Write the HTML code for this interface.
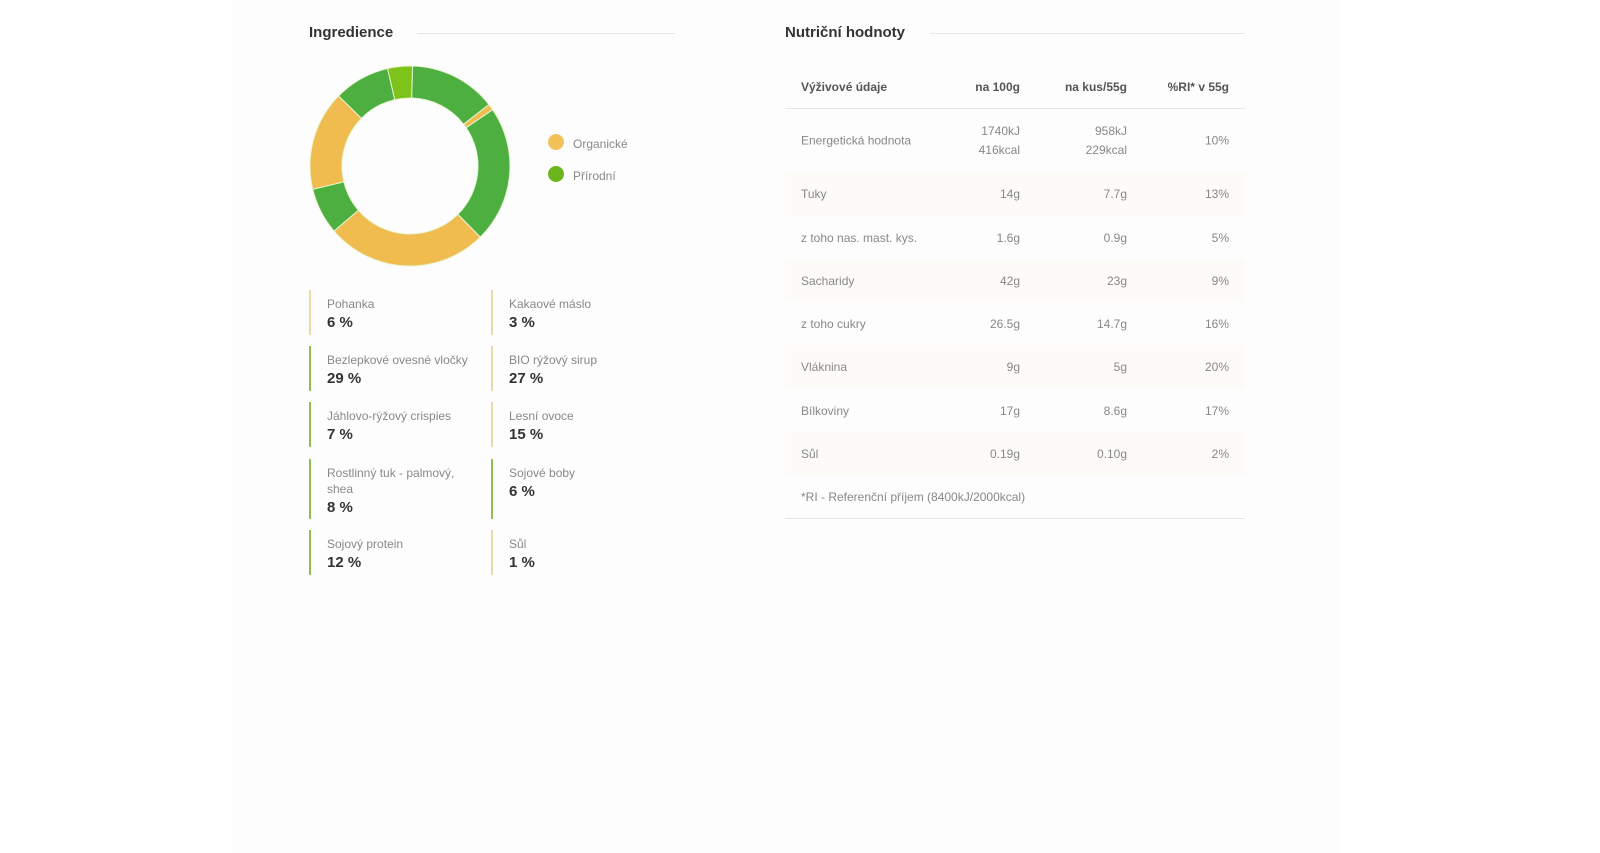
<!DOCTYPE html>
<html><head><meta charset="utf-8"><style>
body{margin:0;width:1600px;height:853px;background:#fff;font-family:"Liberation Sans",sans-serif;position:relative;overflow:hidden}
.abs{position:absolute}
.title{font-size:15px;font-weight:bold;color:#333}
.hline{height:1px;background:#ebe8e0}
.item{position:absolute;border-left:2px solid #ecd9a6;padding-left:16px;width:160px}
.item.g{border-left-color:#8cc152}
.item .n{font-size:12px;color:#888;line-height:16px}
.item .v{font-size:15px;font-weight:bold;color:#333;margin-top:2px}
.row{position:absolute;left:785px;width:460px;font-size:12px;color:#888}
.row.s{background:#fcfbf7}
.row span{position:absolute;top:50%;transform:translateY(-50%)}
.c0{left:16px}.c1{right:225px;text-align:right}.c2{right:118px;text-align:right}.c3{right:16px;text-align:right}
.hdr{font-weight:bold;color:#555}
</style></head><body>
<div class="abs" style="left:232px;top:0;width:1108px;height:853px;background:#fdfdfd"></div>
<div class="abs title" style="left:309px;top:24px">Ingredience</div>
<div class="abs hline" style="left:417px;top:33px;width:258px"></div>
<svg class="abs" id="donut" style="left:300px;top:56px" width="220" height="220"></svg>
<div class="abs" style="left:548px;top:134px;width:16px;height:16px;border-radius:50%;background:#f2c15a"></div>
<div class="abs" style="left:573px;top:137px;font-size:12px;color:#888">Organické</div>
<div class="abs" style="left:548px;top:166px;width:16px;height:16px;border-radius:50%;background:#6db51f"></div>
<div class="abs" style="left:573px;top:169px;font-size:12px;color:#888">Přírodní</div>

<div class="item" style="left:309px;top:290px;height:45px"><div class="n" style="margin-top:6px">Pohanka</div><div class="v">6 %</div></div>
<div class="item" style="left:491px;top:290px;height:45px"><div class="n" style="margin-top:6px">Kakaové máslo</div><div class="v">3 %</div></div>
<div class="item g" style="left:309px;top:346px;height:45px"><div class="n" style="margin-top:6px">Bezlepkové ovesné vločky</div><div class="v">29 %</div></div>
<div class="item" style="left:491px;top:346px;height:45px"><div class="n" style="margin-top:6px">BIO rýžový sirup</div><div class="v">27 %</div></div>
<div class="item g" style="left:309px;top:402px;height:45px"><div class="n" style="margin-top:6px">Jáhlovo-rýžový crispies</div><div class="v">7 %</div></div>
<div class="item" style="left:491px;top:402px;height:45px"><div class="n" style="margin-top:6px">Lesní ovoce</div><div class="v">15 %</div></div>
<div class="item g" style="left:309px;top:459px;height:60px"><div class="n" style="margin-top:6px">Rostlinný tuk - palmový,<br>shea</div><div class="v">8 %</div></div>
<div class="item g" style="left:491px;top:459px;height:60px"><div class="n" style="margin-top:6px">Sojové boby</div><div class="v">6 %</div></div>
<div class="item g" style="left:309px;top:530px;height:45px"><div class="n" style="margin-top:6px">Sojový protein</div><div class="v">12 %</div></div>
<div class="item" style="left:491px;top:530px;height:45px"><div class="n" style="margin-top:6px">Sůl</div><div class="v">1 %</div></div>

<div class="abs title" style="left:785px;top:24px">Nutriční hodnoty</div>
<div class="abs hline" style="left:930px;top:33px;width:315px"></div>

<div class="row hdr" style="top:66px;height:42px"><span class="c0">Výživové údaje</span><span class="c1">na 100g</span><span class="c2">na kus/55g</span><span class="c3">%RI* v 55g</span></div>
<div class="abs hline" style="left:785px;top:108px;width:460px"></div>
<div class="row" style="top:109px;height:63px;line-height:19px"><span class="c0">Energetická hodnota</span><span class="c1">1740kJ<br>416kcal</span><span class="c2">958kJ<br>229kcal</span><span class="c3">10%</span></div>
<div class="row s" style="top:172px;height:44px"><span class="c0">Tuky</span><span class="c1">14g</span><span class="c2">7.7g</span><span class="c3">13%</span></div>
<div class="row" style="top:216px;height:43px"><span class="c0">z toho nas. mast. kys.</span><span class="c1">1.6g</span><span class="c2">0.9g</span><span class="c3">5%</span></div>
<div class="row s" style="top:259px;height:43px"><span class="c0">Sacharidy</span><span class="c1">42g</span><span class="c2">23g</span><span class="c3">9%</span></div>
<div class="row" style="top:302px;height:43px"><span class="c0">z toho cukry</span><span class="c1">26.5g</span><span class="c2">14.7g</span><span class="c3">16%</span></div>
<div class="row s" style="top:345px;height:44px"><span class="c0">Vláknina</span><span class="c1">9g</span><span class="c2">5g</span><span class="c3">20%</span></div>
<div class="row" style="top:389px;height:43px"><span class="c0">Bílkoviny</span><span class="c1">17g</span><span class="c2">8.6g</span><span class="c3">17%</span></div>
<div class="row s" style="top:432px;height:43px"><span class="c0">Sůl</span><span class="c1">0.19g</span><span class="c2">0.10g</span><span class="c3">2%</span></div>
<div class="row" style="top:475px;height:43px"><span class="c0">*RI - Referenční příjem (8400kJ/2000kcal)</span></div>
<div class="abs hline" style="left:785px;top:518px;width:460px"></div>

<script>
const segmentValues=[4,14,1,22,26,7.5,16,9];
const segmentTypes=["light","natural","organic","natural","organic","natural","organic","natural"];
const startAngleDeg=-13;
const colors={light:"#7dc31a",natural:"#4caf3f",organic:"#f0bb4f"};
const svg=document.getElementById('donut');
const cx=110,cy=110,R=100,r=68;
const total=segmentValues.reduce((a,b)=>a+b,0);
function pt(rad,a){const t=a*Math.PI/180;return [cx+rad*Math.sin(t),cy-rad*Math.cos(t)];}
let a=startAngleDeg;
segmentValues.forEach((v,i)=>{
  const a2=a+v/total*360;
  const [x1,y1]=pt(R,a),[x2,y2]=pt(R,a2),[x3,y3]=pt(r,a2),[x4,y4]=pt(r,a);
  const lg=(a2-a)>180?1:0;
  const p=document.createElementNS('http://www.w3.org/2000/svg','path');
  p.setAttribute('d',`M${x1},${y1}A${R},${R} 0 ${lg} 1 ${x2},${y2}L${x3},${y3}A${r},${r} 0 ${lg} 0 ${x4},${y4}Z`);
  p.setAttribute('fill',colors[segmentTypes[i]]);
  p.setAttribute('stroke','#e8f5d0');p.setAttribute('stroke-width','1');
  
  
  svg.appendChild(p);
  a=a2;
});
</script>
</body></html>
